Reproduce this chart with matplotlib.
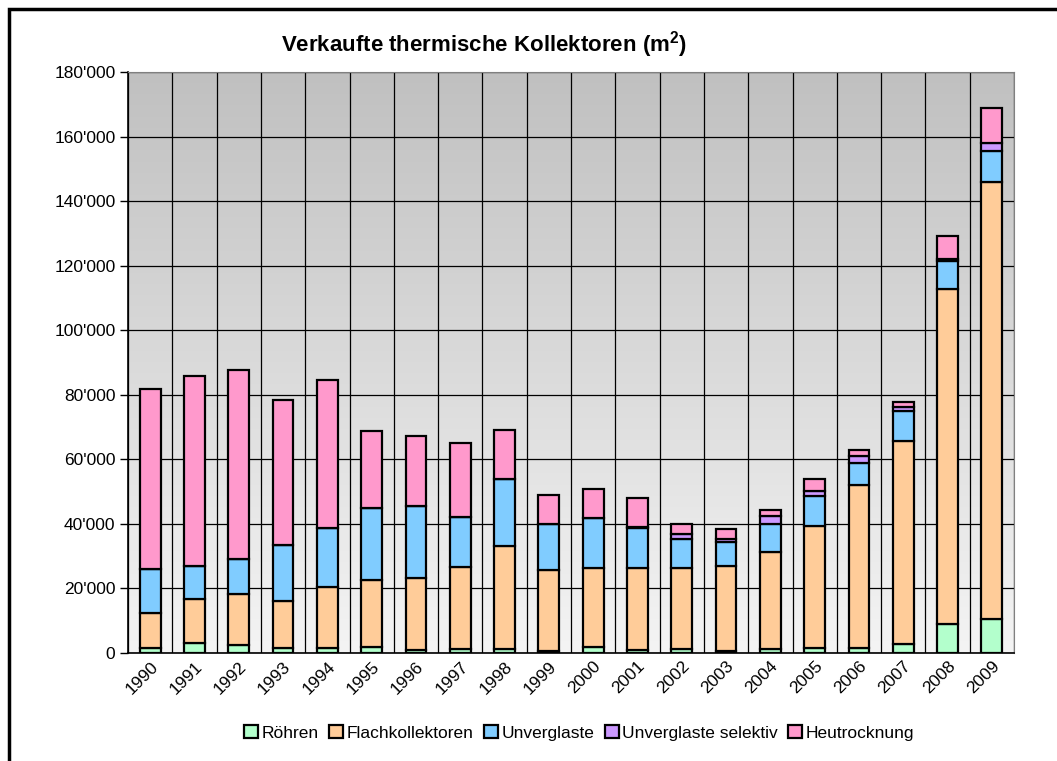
import numpy as np
import matplotlib.pyplot as plt
from matplotlib.ticker import FuncFormatter, FixedLocator
from matplotlib.patches import Rectangle
from matplotlib.colors import LinearSegmentedColormap

plt.rcParams['font.family'] = ['Liberation Sans', 'DejaVu Sans']
plt.rcParams['mathtext.fontset'] = 'custom'
plt.rcParams['mathtext.rm'] = 'Liberation Sans'
plt.rcParams['mathtext.bf'] = 'Liberation Sans:bold'

# data (m2)
years = [str(y) for y in range(1990, 2010)]
roehren = [1400, 3000, 2600, 1400, 1500, 1800, 1000, 1300, 1200, 700,
           2000, 800, 1200, 500, 1300, 1700, 1700, 2700, 8900, 10400]
flach = [10900, 13600, 15600, 14800, 18900, 20700, 22200, 25200, 31800, 25000,
         24400, 25600, 25200, 26300, 29900, 37600, 50200, 62900, 104000, 135400]
unverglaste = [13600, 10300, 10800, 17300, 18400, 22500, 22200, 15500, 21000, 14300,
               15400, 12300, 9000, 7700, 8900, 9300, 7000, 9300, 8400, 9700]
selektiv = [0, 0, 0, 0, 0, 0, 0, 0, 0, 0,
            0, 400, 1400, 900, 2300, 1500, 2200, 1200, 900, 2400]
heu = [56000, 59000, 58800, 45000, 45900, 23900, 21700, 23100, 15100, 9000,
       9000, 8900, 3100, 3100, 1900, 3800, 1700, 1800, 7000, 10900]

series = [("Röhren", roehren, "#b3ffcc"),
          ("Flachkollektoren", flach, "#ffcc99"),
          ("Unverglaste", unverglaste, "#80ccff"),
          ("Unverglaste selektiv", selektiv, "#cc99ff"),
          ("Heutrocknung", heu, "#ff99cc")]

fig = plt.figure(figsize=(10.57, 7.61), dpi=100)
ax = fig.add_axes([128/1057, 108/761, 886/1057, 581/761])

# grey gradient background, dark at the top
grad = np.linspace(0, 1, 256).reshape(-1, 1)
bg = LinearSegmentedColormap.from_list("bg", ["#c0c0c0", "#f4f4f4"])
ax.imshow(grad, cmap=bg, aspect='auto', extent=[-0.5, 19.5, 0, 180000],
          origin='upper', zorder=0)

x = np.arange(len(years))
bottom = np.zeros(len(years))
handles = []
for name, vals, col in series:
    b = ax.bar(x, vals, 0.47, bottom=bottom, color=col, edgecolor='black',
               linewidth=1.6, label=name, zorder=3)
    bottom += np.array(vals)
    handles.append(b)

ax.set_xlim(-0.5, 19.5)
ax.set_ylim(0, 180000)
ax.set_yticks(np.arange(0, 180001, 20000))
ax.yaxis.set_major_formatter(FuncFormatter(lambda v, p: f"{int(v):,}".replace(",", "'")))
ax.set_xticks(x)
ax.set_xticklabels(years, rotation=45, ha='right', va='top', rotation_mode='anchor')
ax.xaxis.set_minor_locator(FixedLocator(np.arange(-0.5, 20, 1)))
ax.tick_params(axis='x', which='both', length=0, labelsize=12.5, pad=4)
ax.tick_params(axis='y', length=6, width=1, labelsize=12.5, pad=3)

ax.grid(axis='y', which='major', color='black', linewidth=0.9, zorder=1)
ax.grid(axis='x', which='minor', color='black', linewidth=0.9, zorder=1)
ax.set_axisbelow(True)
for s in ['top', 'right']:
    ax.spines[s].set_color('#808080')
for s in ['left', 'bottom']:
    ax.spines[s].set_color('black')
    ax.spines[s].set_linewidth(1.2)

fig.text(0.458, 1 - 45/761, r"Verkaufte thermische Kollektoren (m$^{\mathbf{2}}$)",
         ha='center', va='center', fontsize=16, fontweight='bold')

fig.legend(handles=handles, loc='center', bbox_to_anchor=(0.548, 1 - 733/761), ncol=5,
           frameon=False, fontsize=12.5, handlelength=0.8, handleheight=0.8,
           handletextpad=0.2, columnspacing=0.6, borderaxespad=0)

# outer frame (top and left edges visible)
fig.patches.append(Rectangle((9/1057, -0.1), 1.2, 1 - 9/761 + 0.1,
                             transform=fig.transFigure, fill=False,
                             edgecolor='black', linewidth=2.5))

fig.savefig("out.png", dpi=100)
